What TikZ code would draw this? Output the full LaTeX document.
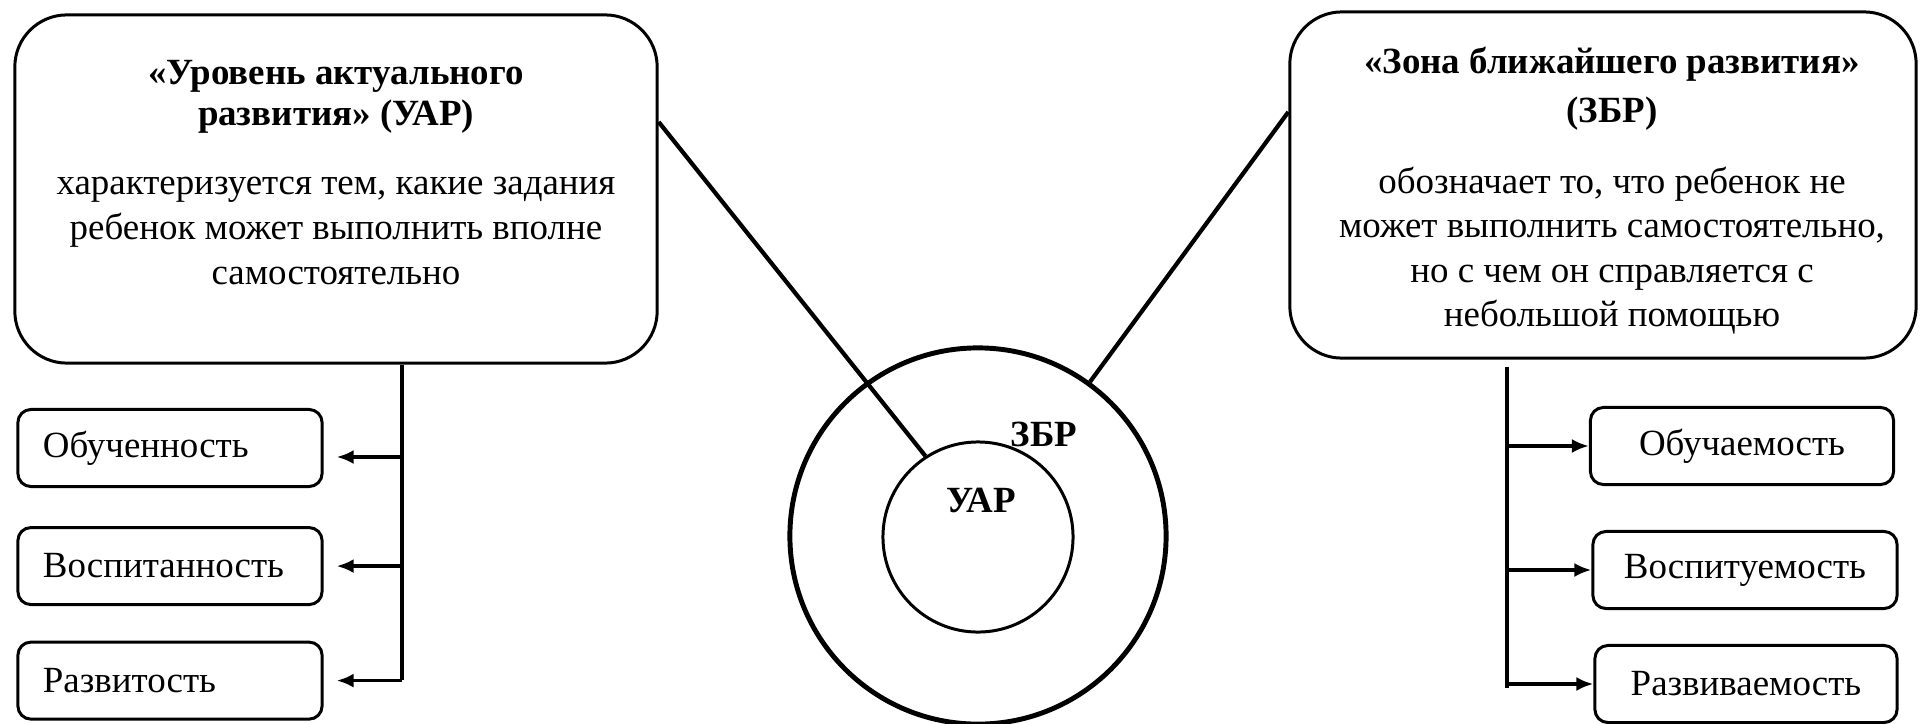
\documentclass[tikz,border=0pt]{standalone}
\usepackage{fontspec}
\setmainfont{Liberation Serif}
\usetikzlibrary{positioning,arrows.meta}

\tikzset{
  bigbox/.style={draw, line width=0.85pt, rounded corners=0.52cm},
  txtblock/.style={align=center, inner sep=0pt, font=\fontsize{10.5}{12.8}\selectfont},
  smallbox/.style={draw, line width=0.85pt, rounded corners=0.13cm, minimum height=0.77cm, inner xsep=0.25cm, font=\fontsize{10.5}{12.8}\selectfont},
  conn/.style={line width=1.05pt},
  arr/.style={line width=1.05pt, -{Latex[length=0.17cm,width=0.14cm]}},
}

\begin{document}
\begin{tikzpicture}[x=0.01cm,y=-0.01cm]
		\useasboundingbox (0,0) rectangle (1920,724);

		%%%%% boxes on top %%%%%
		\node[bigbox, minimum width=6.42cm, minimum height=3.48cm] (uarbox) at (336,189) {};
		\node[bigbox, minimum width=6.26cm, minimum height=3.46cm] (zbrbox) at (1603,185) {};

		\node[txtblock, below=0.465cm of uarbox.north] (uartext) {\textbf{«Уровень актуального}\\[-1.15pt]\textbf{развития» (УАР)}\\[6.8pt]характеризуется тем, какие задания\\ребенок может выполнить вполне\\самостоятельно};
		\node[txtblock, below=0.36cm of zbrbox.north, xshift=0.09cm] (zbrtext) {\textbf{«Зона ближайшего развития»}\\[1.1pt]\textbf{(ЗБР)}\\[7.4pt]обозначает то, что ребенок не\\[-0.2pt]может выполнить самостоятельно,\\[-0.2pt]но с чем он справляется с\\[-0.2pt]небольшой помощью};

		%%%%% circles %%%%%
		\node[circle, draw, line width=1.4pt, minimum size=3.76cm, inner sep=0pt] (zbrcirc) at (978,536) {};
		\node[circle, draw, line width=0.85pt, minimum size=1.9cm, inner sep=0pt] (uarcirc) at (978,537) {};
		\node[font=\fontsize{10.5}{12.8}\selectfont\bfseries] (uarlbl) at (981,500) {УАР};
		\node[font=\fontsize{10.5}{12.8}\selectfont\bfseries] (zbrlbl) at (1044,434) {ЗБР};

		\draw[line width=1.2pt] ([yshift=0.67cm]uarbox.east) -- (uarcirc.123);
		\draw[line width=1.2pt] (zbrcirc.54) -- ([yshift=0.73cm]zbrbox.west);

		%%%%% left list %%%%%
		\node[smallbox, text width=2.54cm, align=left] (obuch) at (170,448) {Обученность};
		\node[smallbox, text width=2.54cm, align=left, below=0.38cm of obuch] (vospit) {Воспитанность};
		\node[smallbox, text width=2.54cm, align=left, below=0.345cm of vospit] (razvit) {Развитость};

		\coordinate (lbot) at (402,680);
		\draw[conn] (uarbox.south -| lbot) -- (lbot);
		\draw[arr, shorten >=0.13cm] ([yshift=-0.09cm]lbot |- obuch.east) -- ([yshift=-0.09cm]obuch.east);
		\draw[arr, shorten >=0.13cm] (lbot |- vospit.east) -- (vospit.east);
		\draw[arr, shorten >=0.13cm] (lbot |- razvit.east) -- (razvit.east);

		%%%%% right list %%%%%
		\node[smallbox, minimum width=3.03cm] (obuchaem) at (1742,446) {Обучаемость};
		\node[smallbox, minimum width=3.04cm] (vospituem) at (1745,570) {Воспитуемость};
		\node[smallbox, minimum width=3.02cm] (razvivaem) at (1746,684) {Развиваемость};

		\coordinate (rbot) at (1507,688);
		\draw[conn] ([yshift=-0.07cm]zbrbox.south -| rbot) -- (rbot);
		\draw[arr] (rbot |- obuchaem.west) -- (obuchaem.west);
		\draw[arr] (rbot |- vospituem.west) -- (vospituem.west);
		\draw[arr] (rbot |- razvivaem.west) -- (razvivaem.west);
	\end{tikzpicture}
\end{document}
